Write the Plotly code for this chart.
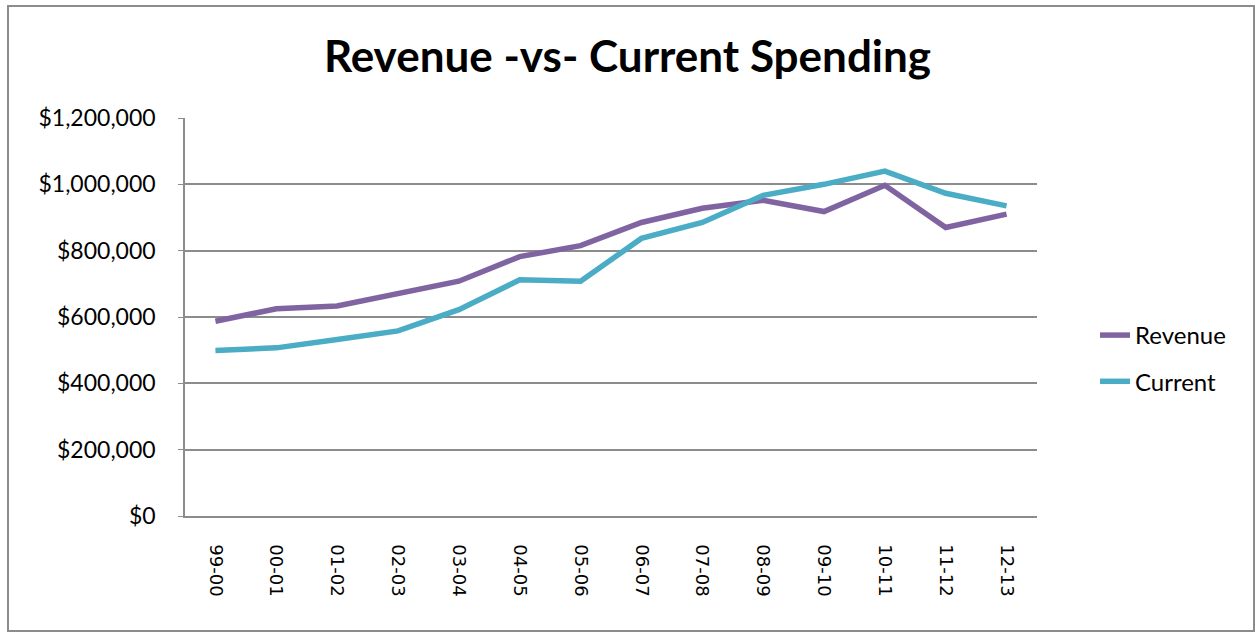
import plotly.graph_objects as go

# fiscal years
years = ["99-00", "00-01", "01-02", "02-03", "03-04", "04-05", "05-06",
         "06-07", "07-08", "08-09", "09-10", "10-11", "11-12", "12-13"]

revenue = [587000, 625000, 633000, 672000, 708000, 782000, 815000,
           885000, 928000, 952000, 918000, 997000, 870000, 910000]
current = [499000, 507000, 532000, 558000, 622000, 712000, 708000,
           837000, 885000, 967000, 1000000, 1040000, 973000, 935000]

W, H = 1255, 632
L, R, T, B = 185, 218, 118, 116

fig = go.Figure()
fig.add_trace(go.Scatter(x=years, y=revenue, name="Revenue", mode="lines",
                         legendgroup="a",
                         line=dict(color="#8064A2", width=5.5)))
fig.add_trace(go.Scatter(x=years, y=current, name="Current", mode="lines",
                         legendgroup="b",
                         line=dict(color="#4BACC6", width=5.5)))

# outer chart frame, in paper coords of the plot area
pw, ph = W - L - R, H - T - B
def px(x):
    return (x - L) / pw
def py(y):
    return (H - B - y) / ph

fig.add_shape(type="rect", xref="paper", yref="paper",
              x0=px(8), x1=px(1254), y0=py(631), y1=py(6),
              line=dict(color="#8c8c8c", width=2), layer="below")

fig.update_layout(
    width=W, height=H,
    margin=dict(l=L, r=R, t=T, b=B, autoexpand=False),
    paper_bgcolor="white", plot_bgcolor="white",
    title=dict(text="<b>Revenue -vs- Current Spending</b>",
               x=0.5, xref="container", xanchor="center",
               y=1 - 57 / H, yanchor="middle",
               font=dict(family="Lato", size=44, color="black")),
    legend=dict(x=px(1095), y=py(313), xanchor="left", yanchor="top",
                font=dict(family="Lato", size=24, color="black"),
                traceorder="grouped", tracegroupgap=12,
                bgcolor="rgba(0,0,0,0)"),
    xaxis=dict(type="category", showgrid=False, showline=True,
               linecolor="#8c8c8c", linewidth=1.5, ticks="",
               tickangle=90, ticklabelstandoff=23,
               tickfont=dict(family="DejaVu Sans", size=18, color="black"),
               range=[-0.5, len(years) - 0.5]),
    yaxis=dict(range=[0, 1200000], dtick=200000, tickprefix="$",
               tickformat=",", showgrid=True, gridcolor="#8c8c8c",
               gridwidth=1.5, zeroline=False, showline=True,
               linecolor="#8c8c8c", linewidth=1.5, ticks="outside",
               ticklen=5, tickcolor="#8c8c8c", ticklabelstandoff=18,
               tickfont=dict(family="Lato", size=23, color="black")),
)

fig.write_html("out.html", config={"displayModeBar": False},
               post_script="document.body.style.margin='0';")
